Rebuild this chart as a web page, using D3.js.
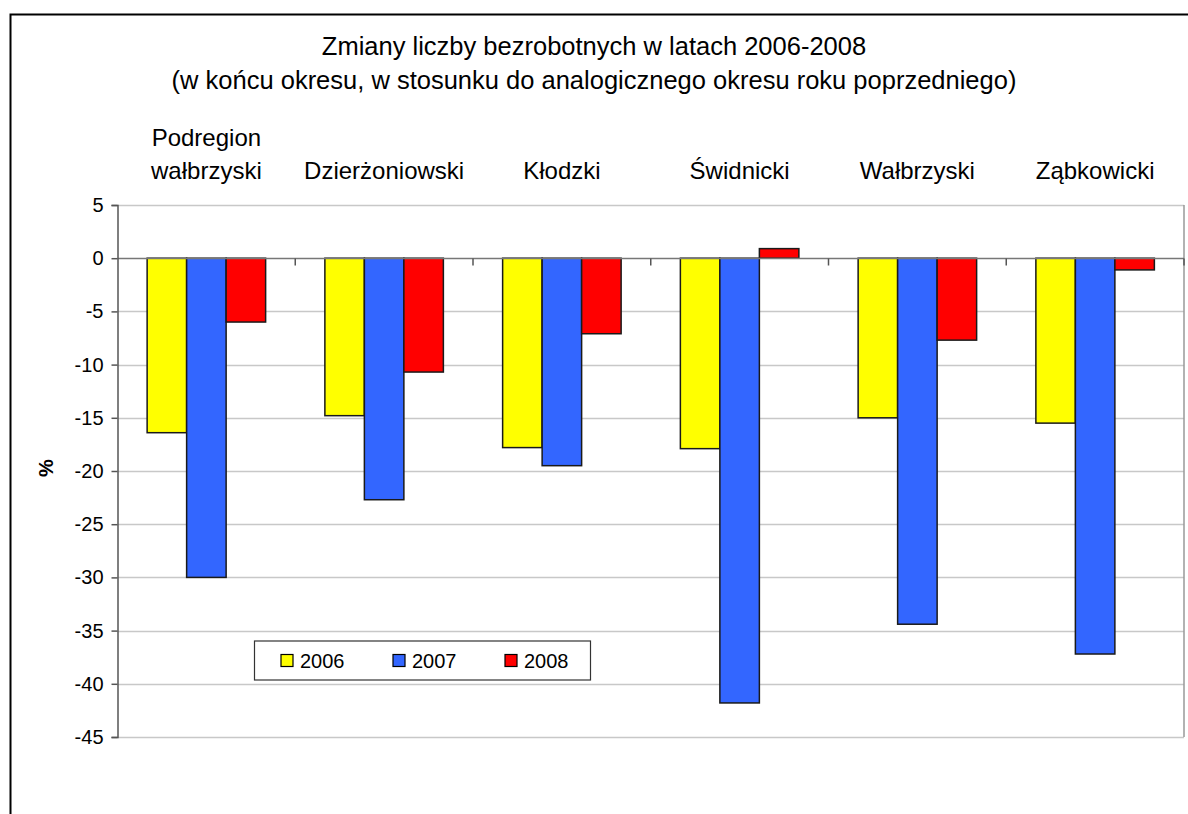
<!DOCTYPE html>
<html>
<head>
<meta charset="utf-8">
<script src="https://cdn.jsdelivr.net/npm/d3@7"></script>
<style>
  html, body { margin: 0; padding: 0; background: #fff; }
  svg { display: block; }
  text { font-family: "Liberation Sans", Arial, sans-serif; fill: #000; }
</style>
</head>
<body>
<svg id="chart" width="1188" height="814"></svg>
<script>
const categories = [["Podregion", "wałbrzyski"], ["Dzierżoniowski"], ["Kłodzki"], ["Świdnicki"], ["Wałbrzyski"], ["Ząbkowicki"]];
const seriesNames = ["2006", "2007", "2008"];
const values2006 = [-16.4, -14.8, -17.8, -17.9, -15.0, -15.5];
const values2007 = [-30.0, -22.7, -19.5, -41.8, -34.4, -37.2];
const values2008 = [-6.0, -10.7, -7.1, 0.9, -7.7, -1.1];
const yTicks = [5, 0, -5, -10, -15, -20, -25, -30, -35, -40, -45];
const titleLines = ["Zmiany liczby bezrobotnych w latach 2006-2008", "(w końcu okresu, w stosunku do analogicznego okresu roku poprzedniego)"];
const colors = ["#FFFF00", "#3366FF", "#FF0000"];

const seriesValues = [values2006, values2007, values2008];

const svg = d3.select("#chart");
const plot = { left: 117.5, right: 1184, top: 205, bottom: 737 };

// outer chart border
svg.append("rect").attr("x", 10.5).attr("y", 14.5).attr("width", 1300).attr("height", 1000)
  .attr("fill", "#fff").attr("stroke", "#000").attr("stroke-width", 2);

const x0 = d3.scaleBand().domain(d3.range(categories.length)).range([plot.left, plot.right]).paddingInner(0).paddingOuter(0);
const y = d3.scaleLinear().domain([-45, 5]).range([plot.bottom, plot.top]);

// gap width 150% -> band = 4.5 bar widths
const barW = x0.bandwidth() / 4.5;

// gridlines
svg.append("g").selectAll("line").data(yTicks.filter(d => d !== 0)).join("line")
  .attr("x1", plot.left).attr("x2", plot.right)
  .attr("y1", d => Math.round(y(d)) + 0.5).attr("y2", d => Math.round(y(d)) + 0.5)
  .attr("stroke", "#c8c8c8").attr("stroke-width", 1.5);

// plot area right border
svg.append("line").attr("x1", plot.right).attr("x2", plot.right).attr("y1", plot.top).attr("y2", plot.bottom)
  .attr("stroke", "#999").attr("stroke-width", 1.5);

// bars
const groups = svg.append("g").selectAll("g").data(categories.map((c, i) => i)).join("g")
  .attr("transform", i => `translate(${x0(i) + 0.75 * barW},0)`);
groups.selectAll("rect").data(i => seriesValues.map((s, k) => ({ k, v: s[i] }))).join("rect")
  .attr("x", d => d.k * barW)
  .attr("width", barW)
  .attr("y", d => y(Math.max(0, d.v)))
  .attr("height", d => Math.abs(y(d.v) - y(0)))
  .attr("fill", d => colors[d.k])
  .attr("stroke", "#1a1a1a").attr("stroke-width", 1.5);

// zero line with category ticks
const zg = svg.append("g").attr("transform", `translate(0,${Math.round(y(0)) + 0.5})`);
zg.append("line").attr("x1", plot.left).attr("x2", plot.right).attr("stroke", "#777").attr("stroke-width", 1.5);
zg.selectAll("line.t").data(d3.range(1, categories.length + 1)).join("line").attr("class", "t")
  .attr("x1", i => i === categories.length ? plot.right : x0(i)).attr("x2", i => i === categories.length ? plot.right : x0(i))
  .attr("y1", 0).attr("y2", 7).attr("stroke", "#555").attr("stroke-width", 1.5);

// y axis
const yAxis = d3.axisLeft(y).tickValues(yTicks).tickSize(6).tickPadding(8).tickFormat(d => String(d));
const yg = svg.append("g").attr("transform", `translate(${plot.left},0)`).call(yAxis);
yg.select(".domain").attr("stroke", "#555").attr("stroke-width", 1.5);
yg.selectAll(".tick line").attr("stroke", "#555").attr("stroke-width", 1.5);
yg.selectAll(".tick text").attr("font-size", 20).attr("font-family", "Liberation Sans, Arial, sans-serif").attr("fill", "#000");

// y axis label
svg.append("text").attr("transform", `translate(53,468) rotate(-90)`)
  .attr("text-anchor", "middle").attr("font-size", 20).attr("font-weight", "bold").text("%");

// titles
svg.append("g").selectAll("text").data(titleLines).join("text")
  .attr("x", 594).attr("y", (d, i) => 55 + i * 34)
  .attr("text-anchor", "middle").attr("font-size", 25.5).text(d => d);

// category labels (top)
const cl = svg.append("g").selectAll("text").data(categories.map((c, i) => i)).join("text")
  .attr("text-anchor", "middle").attr("font-size", 24)
  .attr("x", i => x0(i) + x0.bandwidth() / 2);
cl.each(function(i) {
  const lines = categories[i];
  const t = d3.select(this);
  lines.forEach((ln, j) => {
    t.append("tspan").attr("x", x0(i) + x0.bandwidth() / 2)
      .attr("y", 179 - (lines.length - 1 - j) * 33).text(ln);
  });
});

// legend
const lg = svg.append("g").attr("transform", "translate(254.5,641)");
lg.append("rect").attr("width", 336).attr("height", 39).attr("fill", "#fff").attr("stroke", "#333").attr("stroke-width", 1.2);
const items = lg.selectAll("g").data(seriesNames).join("g")
  .attr("transform", (d, i) => `translate(${26.5 + i * 112},13.5)`);
items.append("rect").attr("width", 12).attr("height", 12)
  .attr("fill", (d, i) => colors[i]).attr("stroke", "#000").attr("stroke-width", 1.2);
items.append("text").attr("x", 19).attr("y", 13).attr("font-size", 20).text(d => d);
</script>
</body>
</html>
